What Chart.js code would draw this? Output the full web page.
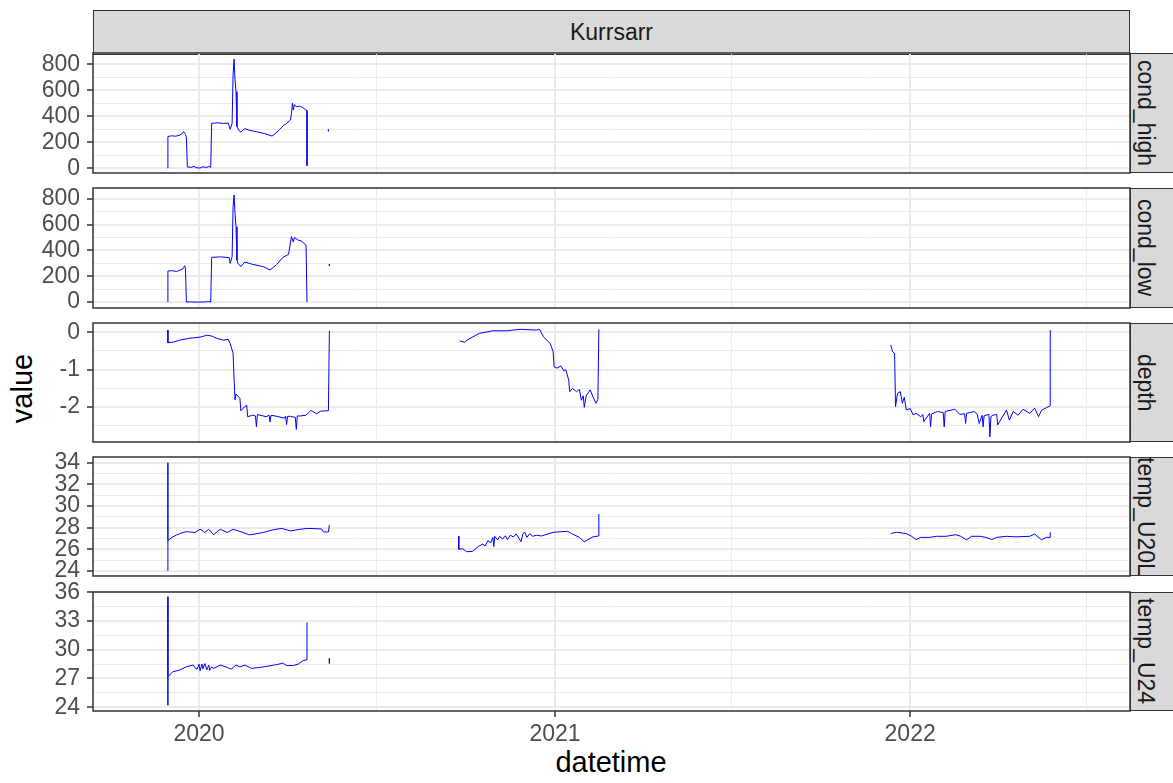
<!DOCTYPE html>
<html>
<head>
<meta charset="utf-8">
<script src="https://cdn.jsdelivr.net/npm/chart.js@4.4.1/dist/chart.umd.min.js"></script>
<style>
  body { margin: 0; background: #fff; width: 1173px; height: 783px; overflow: hidden; position: relative;
         font-family: "Liberation Sans", Arial, sans-serif; }
  canvas { position: absolute; left: 0; }
  .strip { position: absolute; background: #D9D9D9; border: 1.5px solid #333; box-sizing: border-box;
           overflow: hidden; color: #1A1A1A; font-size: 23px; display: flex; align-items: center; justify-content: center; }
  .strip.side { padding-right: 14px; }
  .strip.side span { writing-mode: vertical-rl; white-space: nowrap; }
  .title { position: absolute; font-size: 29px; line-height: 29px; color: #000; text-align: center; white-space: nowrap; }
</style>
</head>
<body>
<div class="strip" style="left:93px; top:10px; width:1037px; height:44.5px;"><span>Kurrsarr</span></div>
<div class="title" style="left:-78px; top:374px; width:200px; height:29px; transform:rotate(-90deg);">value</div>
<div class="title" style="left:511px; top:748px; width:200px; height:29px;">datetime</div>
<script>
// ---- series -------------------------------------------------------------
const condHighDates = ['2019-11-30','2019-11-30','2019-12-04','2019-12-08','2019-12-12','2019-12-15','2019-12-16','2019-12-17','2019-12-18','2019-12-19',
  '2019-12-20','2019-12-24','2019-12-27','2019-12-29','2020-01-02','2020-01-05','2020-01-08','2020-01-11','2020-01-13','2020-01-14',
  '2020-01-20','2020-01-26','2020-01-31','2020-02-02','2020-02-04','2020-02-05','2020-02-06','2020-02-07','2020-02-08','2020-02-09',
  '2020-02-11','2020-02-13','2020-02-17','2020-02-22','2020-03-01','2020-03-08','2020-03-16','2020-03-20','2020-03-24','2020-03-28',
  '2020-03-31','2020-04-04','2020-04-05','2020-04-06','2020-04-07','2020-04-08','2020-04-10','2020-04-13','2020-04-16','2020-04-20',
  '2020-04-21','2020-04-21','2020-05-01','2020-05-13','2020-05-13'];
const condHighValues = [0,245,250,247,255,268,282,275,262,240,
  10,8,15,5,2,12,6,14,8,346,
  350,345,348,300,345,720,840,680,590,320,
  290,280,305,292,280,268,248,270,300,330,
  346,372,420,500,448,490,474,478,470,448,
  445,20,null,298,285];

const condLowDates = ['2019-11-30','2019-11-30','2019-12-04','2019-12-09','2019-12-13','2019-12-16','2019-12-17','2019-12-18','2019-12-19','2019-12-24',
  '2019-12-26','2020-01-02','2020-01-07','2020-01-09','2020-01-10','2020-01-11','2020-01-13','2020-01-14','2020-01-23','2020-02-01',
  '2020-02-02','2020-02-04','2020-02-05','2020-02-06','2020-02-07','2020-02-08','2020-02-09','2020-02-10','2020-02-13','2020-02-17',
  '2020-02-25','2020-03-07','2020-03-14','2020-03-21','2020-03-27','2020-04-02','2020-04-05','2020-04-07','2020-04-08','2020-04-12',
  '2020-04-15','2020-04-20','2020-04-21','2020-05-01','2020-05-14','2020-05-14'];
const condLowValues = [0,240,243,237,248,261,281,266,0,2,
  0,0,0,6,0,5,0,346,350,344,
  300,350,738,829,687,583,325,300,274,310,
  292,274,248,292,344,370,506,464,500,479,
  473,441,0,null,294,281];

const depthDates = ['2019-11-30','2019-11-30','2019-12-06','2019-12-12','2019-12-22','2020-01-02','2020-01-09','2020-01-14','2020-01-19','2020-01-26',
  '2020-01-31','2020-02-02','2020-02-05','2020-02-06','2020-02-07','2020-02-08','2020-02-12','2020-02-13','2020-02-15','2020-02-19',
  '2020-02-20','2020-02-25','2020-02-28','2020-02-29','2020-03-01','2020-03-10','2020-03-13','2020-03-14','2020-03-15','2020-03-21',
  '2020-03-29','2020-03-30','2020-03-31','2020-04-01','2020-04-04','2020-04-09','2020-04-10','2020-04-11','2020-04-14','2020-04-20',
  '2020-04-25','2020-05-01','2020-05-05','2020-05-13','2020-05-14',
  '2020-07-01',
  '2020-09-25','2020-09-30','2020-10-03','2020-10-15','2020-10-29','2020-11-12','2020-11-26','2020-12-13','2020-12-16','2020-12-20',
  '2020-12-27','2020-12-30','2020-12-31','2021-01-03','2021-01-07','2021-01-10','2021-01-12','2021-01-15','2021-01-16','2021-01-19',
  '2021-01-23','2021-01-26','2021-01-28','2021-01-30','2021-01-31','2021-02-02','2021-02-06','2021-02-09','2021-02-12','2021-02-14',
  '2021-02-15',
  '2021-07-01',
  '2021-12-12','2021-12-14','2021-12-16','2021-12-17','2021-12-19','2021-12-22','2021-12-24','2021-12-26','2021-12-28','2022-01-01',
  '2022-01-04','2022-01-07','2022-01-12','2022-01-14','2022-01-15','2022-01-21','2022-01-22','2022-01-23','2022-01-29','2022-02-04',
  '2022-02-05','2022-02-06','2022-02-16','2022-02-21','2022-02-26','2022-02-27','2022-02-28','2022-03-08','2022-03-11','2022-03-13',
  '2022-03-16','2022-03-17','2022-03-18','2022-03-20','2022-03-23','2022-03-24','2022-03-25','2022-03-27','2022-03-31','2022-04-01',
  '2022-04-10','2022-04-13','2022-04-17','2022-04-22','2022-04-27','2022-05-04','2022-05-09','2022-05-13','2022-05-16','2022-05-21',
  '2022-05-25','2022-05-25'];
const depthValues = [0.06,-0.28,-0.26,-0.21,-0.16,-0.13,-0.08,-0.10,-0.16,-0.21,
  -0.19,-0.30,-0.56,-1.23,-1.81,-1.65,-1.77,-2.10,-2.04,-1.95,
  -2.26,-2.22,-2.24,-2.53,-2.20,-2.26,-2.22,-2.40,-2.22,-2.25,
  -2.30,-2.24,-2.47,-2.25,-2.25,-2.28,-2.60,-2.24,-2.24,-2.22,
  -2.09,-2.18,-2.11,-2.10,0.04,
  null,
  -0.23,-0.27,-0.20,-0.03,0.04,0.04,0.08,0.06,0.08,-0.12,
  -0.30,-0.52,-0.92,-0.96,-0.90,-1.03,-1.00,-1.28,-1.59,-1.50,
  -1.59,-1.53,-1.82,-1.70,-2.01,-1.70,-1.54,-1.73,-1.90,-1.80,
  0.08,
  null,
  -0.34,-0.52,-0.56,-1.99,-1.63,-1.59,-1.90,-1.74,-2.08,-2.04,
  -2.21,-2.17,-2.26,-2.20,-2.39,-2.17,-2.53,-2.19,-2.12,-2.15,
  -2.53,-2.12,-2.06,-2.20,-2.18,-2.44,-2.17,-2.12,-2.20,-2.44,
  -2.22,-2.53,-2.24,-2.22,-2.20,-2.80,-2.26,-2.22,-2.20,-2.48,
  -2.08,-2.35,-2.12,-2.22,-2.06,-2.17,-2.03,-2.26,-2.09,-2.02,
  -1.97,0.06];

const tempU20LDates = ['2019-11-30','2019-11-30','2019-11-30','2019-12-04','2019-12-09','2019-12-14','2019-12-19','2019-12-28','2020-01-02','2020-01-05',
  '2020-01-07','2020-01-11','2020-01-16','2020-01-19','2020-01-23','2020-01-30','2020-02-05','2020-02-12','2020-02-22','2020-03-01',
  '2020-03-07','2020-03-17','2020-03-26','2020-04-04','2020-04-14','2020-04-22','2020-05-06','2020-05-08','2020-05-13','2020-05-14',
  '2020-07-01',
  '2020-09-24','2020-09-24','2020-09-28','2020-10-02','2020-10-08','2020-10-14','2020-10-19','2020-10-21','2020-10-24','2020-10-27',
  '2020-10-29','2020-10-30','2020-10-31','2020-11-03','2020-11-05','2020-11-08','2020-11-11','2020-11-13','2020-11-16','2020-11-19',
  '2020-11-22','2020-11-25','2020-11-27','2020-11-29','2020-12-01','2020-12-03','2020-12-06','2020-12-09','2020-12-13','2020-12-18',
  '2020-12-30','2021-01-14','2021-01-18','2021-01-26','2021-01-31','2021-02-09','2021-02-15','2021-02-15',
  '2021-07-01',
  '2021-12-12','2021-12-14','2021-12-18','2021-12-28','2022-01-02','2022-01-07','2022-01-12','2022-01-21','2022-01-28','2022-02-07',
  '2022-02-17','2022-02-22','2022-02-28','2022-03-05','2022-03-14','2022-03-20','2022-03-26','2022-03-31','2022-04-10','2022-04-20',
  '2022-05-04','2022-05-09','2022-05-16','2022-05-21','2022-05-25','2022-05-25'];
const tempU20LValues = [24.0,34.0,26.8,27.1,27.33,27.5,27.63,27.55,27.85,27.7,
  27.55,27.85,27.33,27.6,27.85,27.55,27.85,27.65,27.33,27.45,
  27.55,27.8,27.93,27.7,27.85,27.93,27.88,27.6,27.6,28.25,
  null,
  27.23,26.0,26.05,25.78,25.8,26.25,26.5,26.3,26.8,26.6,
  27.1,26.25,27.2,26.87,27.2,26.95,27.25,26.9,27.3,27.14,
  27.41,27.0,26.7,27.45,27.57,27.1,27.45,27.2,27.3,27.23,
  27.57,27.66,27.45,27.1,26.7,27.15,27.23,29.26,
  null,
  27.41,27.5,27.57,27.45,27.23,26.9,27.1,27.1,27.2,27.2,
  27.35,27.2,26.87,27.2,27.2,27.1,26.9,27.1,27.2,27.15,
  27.2,27.41,26.87,27.1,27.1,27.57];

const tempU24Dates = ['2019-11-30','2019-11-30','2019-11-30','2019-12-05','2019-12-12','2019-12-19','2019-12-26','2019-12-28','2019-12-30','2020-01-01',
  '2020-01-02','2020-01-04','2020-01-05','2020-01-07','2020-01-09','2020-01-11','2020-01-12','2020-01-14','2020-01-16','2020-01-23',
  '2020-01-30','2020-02-03','2020-02-08','2020-02-12','2020-02-17','2020-02-24','2020-03-03','2020-03-10','2020-03-21','2020-03-27',
  '2020-03-31','2020-04-07','2020-04-12','2020-04-17','2020-04-21','2020-04-21','2020-05-01','2020-05-14','2020-05-14'];
const tempU24Values = [35.54,24.2,27.17,27.7,27.87,28.22,28.4,28.1,27.97,28.5,
  27.8,28.5,28.0,28.55,27.9,28.4,27.85,28.2,28.05,28.4,
  28.15,27.97,28.4,28.2,28.4,28.05,28.15,28.25,28.45,28.6,
  28.35,28.35,28.5,28.87,28.95,32.86,null,29.1,28.57];

// ---- axes ---------------------------------------------------------------
const yearTicks = ['2020-01-01', '2021-01-01', '2022-01-01'];
const midYearTicks = ['2020-07-01', '2021-07-01', '2022-07-01'];
const xRange = ['2019-09-14', '2022-08-15'];

const condTicks = [0, 200, 400, 600, 800];
const depthTicks = [-2, -1, 0];
const tempU20LTicks = [24, 26, 28, 30, 32, 34];
const tempU24Ticks = [24, 27, 30, 33, 36];

const panelNames = ['cond_high', 'cond_low', 'depth', 'temp_U20L', 'temp_U24'];

const panels = [
  { dates: condHighDates, values: condHighValues, ticks: condTicks, min: -36, max: 887 },
  { dates: condLowDates, values: condLowValues, ticks: condTicks, min: -46, max: 883 },
  { dates: depthDates, values: depthValues, ticks: depthTicks, min: -2.937, max: 0.249 },
  { dates: tempU20LDates, values: tempU20LValues, ticks: tempU20LTicks, min: 23.53, max: 34.53 },
  { dates: tempU24Dates, values: tempU24Values, ticks: tempU24Ticks, min: 23.6, max: 36.03 }
];

// panel frame in page pixels
const W = 1173, H = 783;
const LEFT = 93, RIGHT = 1130;
const panelTops = [53, 188, 323, 457, 592];
const panelBottoms = [173, 308, 442, 576, 711];
const PAD = 30;

const FONT = '"Liberation Sans", Arial, sans-serif';
const GRID = '#EBEBEB';
const DARK = '#333333';

const ts = d => Date.parse(d);

// major breaks plus ggplot-style minor breaks halfway between them
function withMinor(major, min, max) {
  const out = major.map(v => ({ value: v, lvl: 1 }));
  const step = major[1] - major[0];
  for (let i = -1; i < major.length; i++) {
    const v = major[0] + (i + 0.5) * step;
    if (v >= min && v <= max) out.push({ value: v, lvl: 0 });
  }
  return out.sort((a, b) => a.value - b.value);
}

const gridOpts = {
  color: GRID,
  lineWidth: c => (c.tick && c.tick.lvl ? 2 : 1),
  tickColor: c => (c.tick && c.tick.lvl ? DARK : 'rgba(0,0,0,0)'),
  tickWidth: 1.5,
  tickLength: 6
};

const panelBox = {
  id: 'panelBox',
  afterDatasetsDraw(chart) {
    const { ctx, chartArea: a } = chart;
    ctx.save();
    ctx.strokeStyle = DARK;
    ctx.lineWidth = 1.5;
    ctx.strokeRect(a.left, a.top, a.right - a.left, a.bottom - a.top);
    ctx.restore();
  }
};

function makePanel(p, i) {
  const last = i === panels.length - 1;
  const top = panelTops[i], bottom = panelBottoms[i];
  const cTop = top - PAD;
  const cHeight = last ? H - cTop : bottom - top + 2 * PAD;

  const canvas = document.createElement('canvas');
  canvas.width = W;
  canvas.height = cHeight;
  canvas.style.top = cTop + 'px';
  document.body.appendChild(canvas);

  // facet strip on the right
  const strip = document.createElement('div');
  strip.className = 'strip side';
  strip.style.cssText = `left:${RIGHT}px; top:${top}px; width:${W - RIGHT + 2}px; height:${bottom - top}px;`;
  strip.innerHTML = `<span>${panelNames[i]}</span>`;
  document.body.appendChild(strip);

  const points = p.dates.map((d, k) => ({ x: ts(d), y: p.values[k] }));

  new Chart(canvas, {
    type: 'line',
    data: {
      datasets: [{
        data: points,
        borderColor: '#0000FF',
        borderWidth: 1,
        pointRadius: 0,
        tension: 0,
        spanGaps: false
      }]
    },
    options: {
      responsive: false,
      animation: false,
      devicePixelRatio: 1,
      events: [],
      layout: { padding: { top: PAD, bottom: last ? 0 : PAD, left: 0, right: W - RIGHT } },
      plugins: { legend: { display: false }, tooltip: { enabled: false } },
      scales: {
        x: {
          type: 'linear',
          min: ts(xRange[0]),
          max: ts(xRange[1]),
          afterBuildTicks: s => {
            s.ticks = yearTicks.map(d => ({ value: ts(d), lvl: 1 }))
              .concat(midYearTicks.map(d => ({ value: ts(d), lvl: 0 })))
              .sort((a, b) => a.value - b.value);
          },
          afterFit: s => { s.height = last ? H - panelBottoms[i] : 0; },
          border: { display: false },
          grid: Object.assign({}, gridOpts, { drawTicks: last }),
          ticks: {
            display: last,
            autoSkip: false,
            maxRotation: 0,
            padding: 4,
            color: '#4D4D4D',
            font: { family: FONT, size: 23 },
            callback: (v, k, t) => (t[k].lvl ? String(new Date(v).getUTCFullYear()) : '')
          }
        },
        y: {
          type: 'linear',
          min: p.min,
          max: p.max,
          afterBuildTicks: s => { s.ticks = withMinor(p.ticks, p.min, p.max); },
          afterFit: s => { s.width = LEFT; },
          border: { display: false },
          grid: gridOpts,
          ticks: {
            autoSkip: false,
            padding: 7,
            color: '#4D4D4D',
            font: { family: FONT, size: 23 },
            callback: (v, k, t) => (t[k].lvl ? String(v) : '')
          }
        }
      }
    },
    plugins: [panelBox]
  });
}

panels.forEach(makePanel);
</script>
</body>
</html>
